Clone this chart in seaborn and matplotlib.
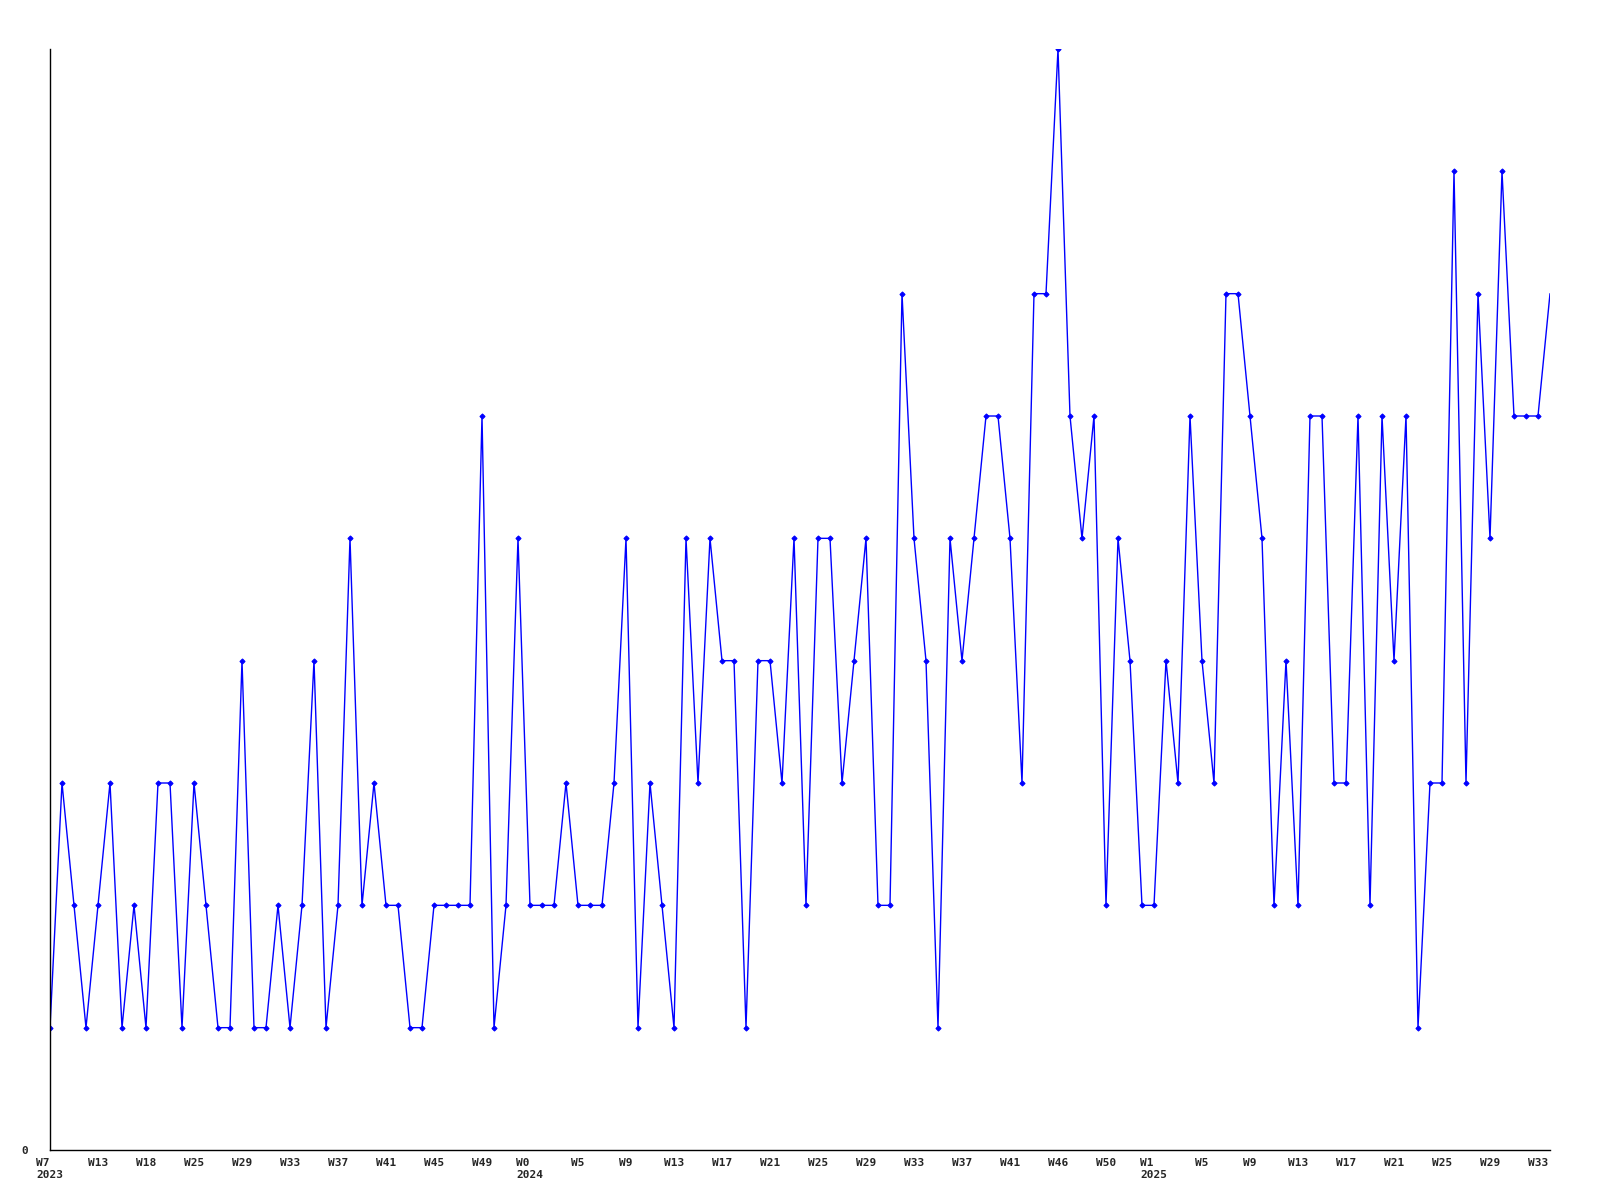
import matplotlib
matplotlib.use("Agg")
import matplotlib.pyplot as plt
import pandas as pd
import seaborn as sns

# weekly counts (one value per week)
counts = [
    1, 3, 2, 1, 2, 3, 1, 2, 1, 3, 3, 1, 3, 2, 1, 1, 4, 1, 1, 2,
    1, 2, 4, 1, 2, 5, 2, 3, 2, 2, 1, 1, 2, 2, 2, 2, 6, 1, 2, 5,
    2, 2, 2, 3, 2, 2, 2, 3, 5, 1, 3, 2, 1, 5, 3, 5, 4, 4, 1, 4,
    4, 3, 5, 2, 5, 5, 3, 4, 5, 2, 2, 7, 5, 4, 1, 5, 4, 5, 6, 6,
    5, 3, 7, 7, 9, 6, 5, 6, 2, 5, 4, 2, 2, 4, 3, 6, 4, 3, 7, 7,
    6, 5, 2, 4, 2, 6, 6, 3, 3, 6, 2, 6, 4, 6, 1, 3, 3, 8, 3, 7,
    5, 8, 6, 6, 6, 7,
]

# labels shown every 4th week
tick_labels = [
    "W7\n2023", "W13", "W18", "W25", "W29", "W33", "W37", "W41", "W45", "W49",
    "W0\n2024", "W5", "W9", "W13", "W17", "W21", "W25", "W29", "W33", "W37",
    "W41", "W46", "W50", "W1\n2025", "W5", "W9", "W13", "W17", "W21", "W25",
    "W29", "W33",
]
tick_step = 4

df = pd.DataFrame({"week": range(len(counts)), "count": counts})

sns.set_style("white")
plt.rcParams["font.family"] = ["DejaVu Sans Mono"]

fig = plt.figure(figsize=(16, 12), dpi=100)
ax = fig.add_axes([50 / 1600, 1 - 1150 / 1200, 1500 / 1600, 1101 / 1200])

# last point sits on the right edge without a marker
sns.lineplot(data=df, x="week", y="count", ax=ax, color="#0000ff",
             linewidth=1.0, marker="D", markersize=2.6,
             markeredgecolor="#0000ff", markerfacecolor="#0000ff",
             markevery=slice(0, len(counts) - 1))

ax.set_xlim(0, len(counts) - 1)
ax.set_ylim(0, 9)
ax.margins(0)

ax.set_xticks(range(0, len(counts), tick_step)[:len(tick_labels)])
ax.set_xticklabels(tick_labels, fontsize=8, fontweight="bold")
for t in ax.get_xticklabels():
    t.set_multialignment("left")
ax.set_yticks([0])
ax.set_yticklabels(["0"], fontsize=8, fontweight="bold")
ax.tick_params(axis="both", length=0, pad=6)
ax.tick_params(axis="y", pad=16)

ax.set_xlabel("")
ax.set_ylabel("")
sns.despine(ax=ax)
for side in ["left", "bottom"]:
    ax.spines[side].set_color("black")
    ax.spines[side].set_linewidth(1.0)

fig.savefig("out.png", dpi=100)
